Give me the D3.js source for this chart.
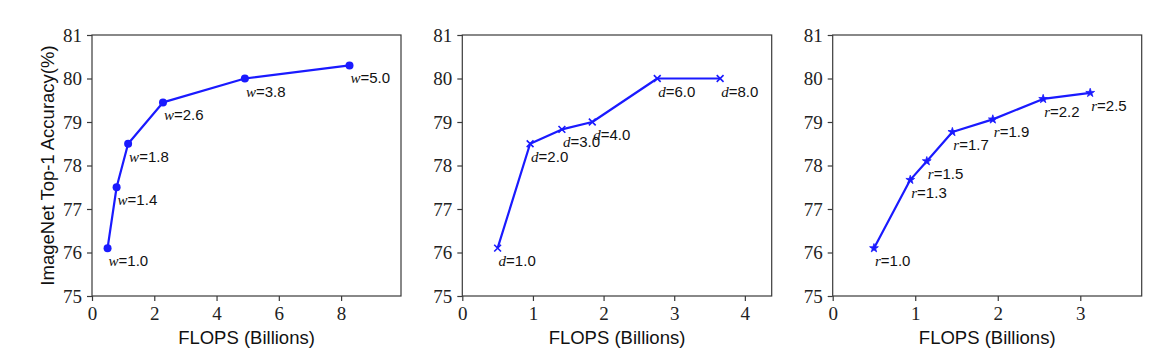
<!DOCTYPE html>
<html>
<head>
<meta charset="utf-8">
<script src="https://cdn.jsdelivr.net/npm/d3@7/dist/d3.min.js"></script>
<style>
  html, body { margin: 0; padding: 0; background: #fff; }
  svg { display: block; }
</style>
</head>
<body>
<svg id="chart" width="1162" height="357"></svg>
<script>
// ---- Data ----
const widthFlops   = [0.50, 0.79, 1.16, 2.28, 4.91, 8.27];
const widthAcc     = [76.1, 77.5, 78.5, 79.45, 80.0, 80.3];
const widthCoef    = ["1.0", "1.4", "1.8", "2.6", "3.8", "5.0"];

const depthFlops   = [0.50, 0.96, 1.41, 1.84, 2.76, 3.65];
const depthAcc     = [76.1, 78.5, 78.83, 79.0, 80.0, 80.0];
const depthCoef    = ["1.0", "2.0", "3.0", "4.0", "6.0", "8.0"];

const resFlops     = [0.50, 0.94, 1.14, 1.45, 1.94, 2.55, 3.12];
const resAcc       = [76.1, 77.67, 78.1, 78.77, 79.06, 79.53, 79.67];
const resCoef      = ["1.0", "1.3", "1.5", "1.7", "1.9", "2.2", "2.5"];

const yTicks       = [75, 76, 77, 78, 79, 80, 81];
const xTicks1      = [0, 2, 4, 6, 8];
const xTicks2      = [0, 1, 2, 3, 4];
const xTicks3      = [0, 1, 2, 3];

const xLabel = "FLOPS (Billions)";
const yLabel = "ImageNet Top-1 Accuracy(%)";

(function () {
// ---- Layout ----
const svg = d3.select("#chart");
const plotTop = 35, plotBottom = 296;
const panels = [
  { left: 92,    right: 401,    xs: widthFlops, ys: widthAcc, coef: widthCoef, sym: "w", ticks: xTicks1, marker: "circle" },
  { left: 462.3, right: 771.7,  xs: depthFlops, ys: depthAcc, coef: depthCoef, sym: "d", ticks: xTicks2, marker: "x" },
  { left: 832.7, right: 1141.7, xs: resFlops,   ys: resAcc,   coef: resCoef,   sym: "r", ticks: xTicks3, marker: "star" }
];

const blue = "#1a1aff";
const axisColor = "#3a3a3a";
const serif = "'Liberation Serif', 'DejaVu Serif', serif";
const sans = "'Liberation Sans', Arial, sans-serif";

const y = d3.scaleLinear().domain([75, 81]).range([plotBottom, plotTop]);

panels.forEach((p) => {
  const x = d3.scaleLinear().domain([0, d3.max(p.xs) * 1.2]).range([p.left, p.right]);
  const g = svg.append("g");

  g.append("rect")
    .attr("x", p.left).attr("y", plotTop)
    .attr("width", p.right - p.left).attr("height", plotBottom - plotTop)
    .attr("fill", "none").attr("stroke", axisColor).attr("stroke-width", 1.2);

  const xa = g.append("g").attr("transform", `translate(0,${plotBottom})`)
    .call(d3.axisBottom(x).tickValues(p.ticks).tickFormat(d3.format("d")).tickSize(5).tickPadding(6));
  const ya = g.append("g").attr("transform", `translate(${p.left},0)`)
    .call(d3.axisLeft(y).tickValues(yTicks).tickFormat(d3.format("d")).tickSize(5).tickPadding(5));
  [xa, ya].forEach(a => {
    a.select(".domain").remove();
    a.selectAll(".tick line").attr("stroke", axisColor).attr("stroke-width", 1.2);
    a.selectAll(".tick text").attr("fill", "#222").style("font-family", serif).style("font-size", "19px");
  });

  g.append("text")
    .attr("x", (p.left + p.right) / 2).attr("y", 344)
    .attr("text-anchor", "middle")
    .style("font-family", sans).style("font-size", "18.5px").attr("fill", "#111")
    .text(xLabel);

  const pts = p.xs.map((v, i) => [v, p.ys[i]]);
  g.append("path")
    .datum(pts)
    .attr("fill", "none").attr("stroke", blue).attr("stroke-width", 2.2)
    .attr("stroke-linejoin", "round")
    .attr("d", d3.line().x(d => x(d[0])).y(d => y(d[1])));

  const mk = g.selectAll(".mk").data(pts).enter();
  if (p.marker === "circle") {
    mk.append("circle").attr("cx", d => x(d[0])).attr("cy", d => y(d[1])).attr("r", 4).attr("fill", blue);
  } else if (p.marker === "x") {
    mk.append("path")
      .attr("transform", d => `translate(${x(d[0])},${y(d[1])})`)
      .attr("d", d3.symbol().type(d3.symbolTimes).size(32))
      .attr("fill", "none").attr("stroke", blue).attr("stroke-width", 1.6);
  } else {
    mk.append("path")
      .attr("transform", d => `translate(${x(d[0])},${y(d[1])})`)
      .attr("d", d3.symbol().type(d3.symbolStar).size(24))
      .attr("fill", blue).attr("stroke", blue).attr("stroke-width", 0.8);
  }

  pts.forEach((d, i) => {
    const t = g.append("text")
      .attr("x", x(d[0]) + 1).attr("y", y(d[1]) + 18)
      .style("font-size", "15px").attr("fill", "#111");
    t.append("tspan").style("font-family", serif).style("font-style", "italic").text(p.sym);
    t.append("tspan").style("font-family", sans).text("=" + p.coef[i]);
  });
});

svg.append("text")
  .attr("transform", `translate(53.5,${(plotTop + plotBottom) / 2}) rotate(-90)`)
  .attr("text-anchor", "middle")
  .style("font-family", sans).style("font-size", "18.5px").attr("fill", "#111")
  .text(yLabel);
})();
</script>
</body>
</html>
